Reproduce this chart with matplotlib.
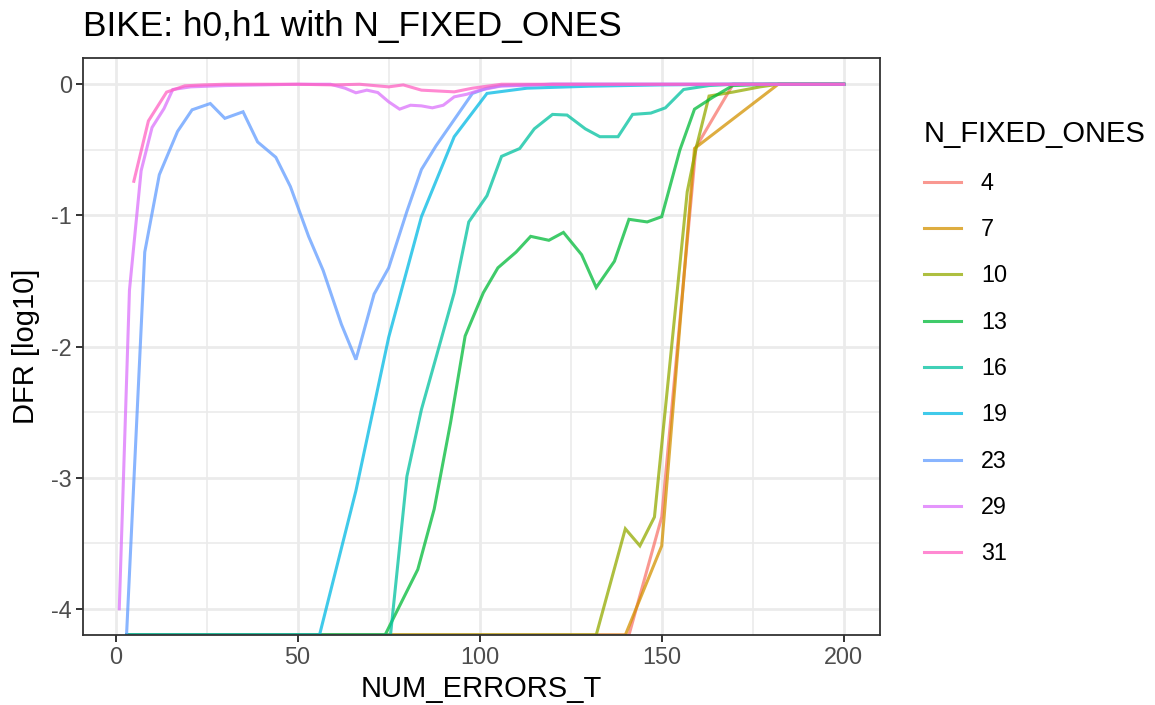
import numpy as np
import matplotlib
matplotlib.use('Agg')
import matplotlib.pyplot as plt
from matplotlib.ticker import MultipleLocator

plt.rcParams['font.family'] = ['Liberation Sans', 'DejaVu Sans']

NEG = -np.inf  # log10(0): DFR of zero, drawn at the panel floor like ggplot does

n_fixed_ones = ['4', '7', '10', '13', '16', '19', '23', '29', '31']
colours = ['#F8766D', '#D39200', '#93AA00', '#00BA38', '#00C19F',
           '#00B9E3', '#619CFF', '#DB72FB', '#FF61C3']

x_4 = [3, 141, 150, 159.4, 169.6, 200]
y_4 = [NEG, NEG, -3.30, -0.48, 0, 0]

x_7 = [3, 140, 150, 159, 182, 200]
y_7 = [NEG, NEG, -3.52, -0.49, 0, 0]

x_10 = [3, 132, 140, 144, 148, 157, 159.5, 163, 169.5, 177, 182, 200]
y_10 = [NEG, NEG, -3.39, -3.52, -3.30, -0.82, -0.48, -0.09, -0.06, -0.02, 0, 0]

x_13 = [3, 74, 83, 87.5, 92, 96, 101, 105, 110, 114, 119, 123, 128, 132,
        137, 141, 146, 150, 155, 159, 164, 169.5, 180, 200]
y_13 = [NEG, NEG, -3.70, -3.24, -2.58, -1.92, -1.59, -1.40, -1.28, -1.16, -1.19,
        -1.13, -1.30, -1.55, -1.35, -1.03, -1.05, -1.01, -0.50, -0.19, -0.10,
        -0.01, 0, 0]

x_16 = [3, 75.5, 80, 84, 93, 97, 102, 106, 111, 115, 120, 124, 129, 133, 138,
        142, 147, 151, 156, 163, 170, 180, 200]
y_16 = [NEG, NEG, -2.99, -2.48, -1.59, -1.05, -0.85, -0.55, -0.49, -0.34, -0.23,
        -0.235, -0.34, -0.40, -0.40, -0.23, -0.22, -0.18, -0.04, -0.01, 0, 0, 0]

x_19 = [3, 56, 66, 75, 84, 93, 102, 113, 130, 150, 170, 200]
y_19 = [NEG, NEG, -3.10, -1.93, -1.01, -0.40, -0.07, -0.03, -0.015, -0.005, 0, 0]

x_23 = [3, 8, 12, 17, 21, 26, 30, 35, 39, 44, 48, 53, 57, 62, 66, 71, 75, 80,
        84, 88, 98, 102, 106, 120, 140, 160, 180, 200]
y_23 = [NEG, -1.28, -0.69, -0.36, -0.195, -0.147, -0.26, -0.21, -0.44, -0.557,
        -0.78, -1.16, -1.42, -1.83, -2.10, -1.60, -1.40, -0.97, -0.65, -0.47,
        -0.07, -0.03, -0.01, 0, 0, 0, 0, 0]

x_29 = [1, 3.8, 7, 10, 13.3, 15.7, 20.6, 30, 40, 50, 59, 63, 66, 69, 72, 75, 78,
        81, 84, 87, 90, 93, 96.5, 100, 105.6, 120, 140, 160, 180, 200]
y_29 = [-4.0, -1.57, -0.66, -0.33, -0.185, -0.04, -0.02, -0.01, -0.005, 0, 0,
        -0.03, -0.065, -0.045, -0.063, -0.134, -0.19, -0.16, -0.165, -0.18, -0.16,
        -0.096, -0.076, -0.045, -0.015, 0, 0, 0, 0, 0]

x_31 = [5, 9, 14, 19, 24, 30, 40, 50, 60, 67, 71, 75, 79, 84, 93, 98, 106, 120,
        140, 160, 180, 200]
y_31 = [-0.74, -0.28, -0.06, -0.012, -0.005, 0, 0, 0, -0.005, 0, -0.01, -0.02,
        -0.005, -0.045, -0.058, -0.03, 0, 0, 0, 0, 0, 0]

xs = [x_4, x_7, x_10, x_13, x_16, x_19, x_23, x_29, x_31]
ys = [y_4, y_7, y_10, y_13, y_16, y_19, y_23, y_29, y_31]

# ggplot-like limits: 5% expansion of the finite data range
all_x = np.concatenate([np.array(x, float) for x in xs])
all_y = np.concatenate([np.array(y, float) for y in ys])
fin_y = all_y[np.isfinite(all_y)]
xpad = 0.05 * (all_x.max() - all_x.min())
ypad = 0.05 * (fin_y.max() - fin_y.min())
xlim = (all_x.min() - xpad, all_x.max() + xpad)
ylim = (fin_y.min() - ypad, fin_y.max() + ypad)

fig = plt.figure(figsize=(11.55, 7.05), dpi=100)
ax = fig.add_axes([0.0719, 0.0993, 0.6900, 0.8184])

for i in range(len(xs)):
    yy = np.array(ys[i], float)
    yy[np.isneginf(yy)] = ylim[0]
    ax.plot(xs[i], yy, color=colours[i], alpha=0.75, lw=2.2,
            solid_joinstyle='miter', label=n_fixed_ones[i])

ax.set_xlim(*xlim)
ax.set_ylim(*ylim)
ax.xaxis.set_major_locator(MultipleLocator(50))
ax.xaxis.set_minor_locator(MultipleLocator(25))
ax.yaxis.set_major_locator(MultipleLocator(1))
ax.yaxis.set_minor_locator(MultipleLocator(0.5))
ax.set_yticks([0, -1, -2, -3, -4])
ax.set_yticklabels(['0', '-1', '-2', '-3', '-4'])

ax.grid(which='major', color='#EBEBEB', lw=2.0, zorder=0)
ax.grid(which='minor', color='#EBEBEB', lw=1.2, zorder=0)
ax.set_axisbelow(True)
for s in ax.spines.values():
    s.set_color('#333333')
    s.set_linewidth(1.3)
ax.tick_params(which='major', length=5, width=1.4, color='#333333',
               labelsize=16.8, labelcolor='#4D4D4D', pad=3)
ax.tick_params(which='minor', length=0)

ax.set_xlabel('NUM_ERRORS_T', fontsize=21, labelpad=4)
ax.set_ylabel('DFR [log10]', fontsize=21, labelpad=8)
ax.set_title('BIKE: h0,h1 with N_FIXED_ONES', fontsize=25.4, loc='left', pad=16)

leg = ax.legend(title='N_FIXED_ONES', loc='upper left', bbox_to_anchor=(1.043, 0.908),
                frameon=False, fontsize=16.8, title_fontsize=21,
                handlelength=1.6, handletextpad=0.85, labelspacing=1.0,
                borderaxespad=0)
leg._legend_box.align = 'left'
for line in leg.get_lines():
    line.set_linewidth(2.2)

fig.savefig('out.png', dpi=100)
